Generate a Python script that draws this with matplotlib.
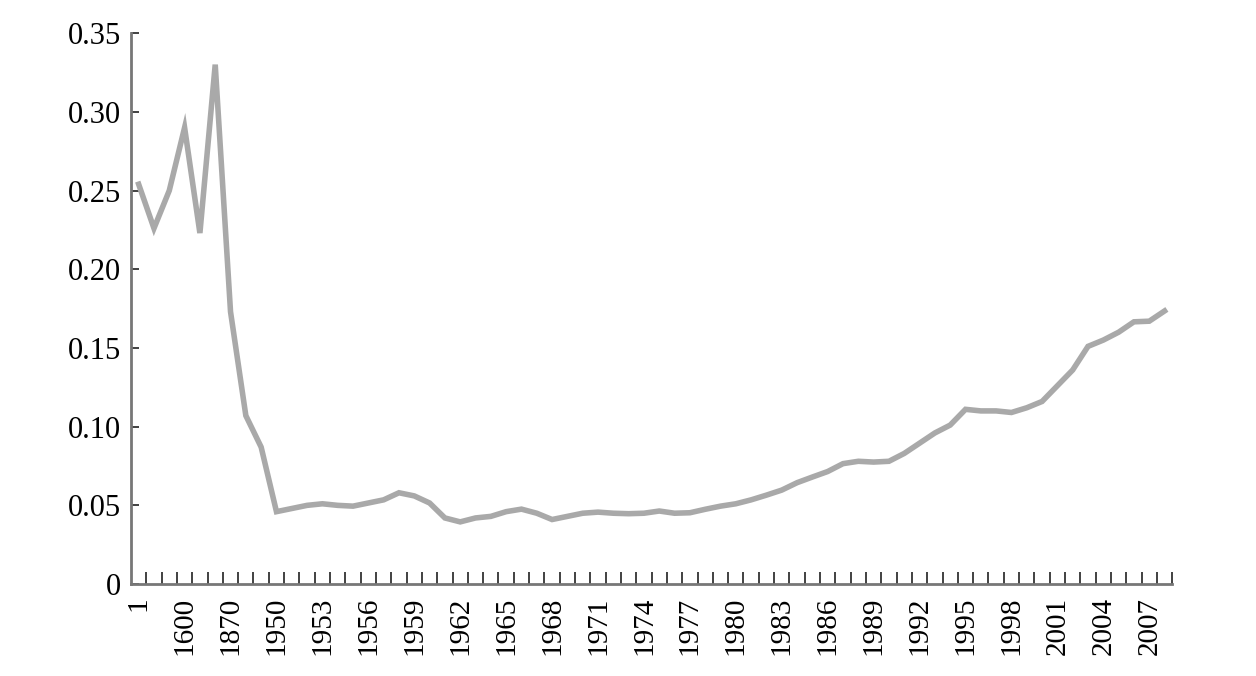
import matplotlib
matplotlib.use("Agg")
import matplotlib.pyplot as plt
from matplotlib.ticker import FixedLocator

# categories (years) on the x axis
years = ["1", "1000", "1500", "1600", "1700", "1820", "1870", "1900", "1913"] + \
        [str(y) for y in range(1950, 2009)]

values = [0.254, 0.226, 0.250, 0.290, 0.223, 0.330, 0.173, 0.107, 0.087,
          0.046, 0.048, 0.050, 0.051, 0.050, 0.0495, 0.0515, 0.0535, 0.058, 0.056, 0.0515,
          0.042, 0.0395, 0.042, 0.043, 0.046, 0.0476, 0.045, 0.041, 0.043, 0.045,
          0.0457, 0.045, 0.0447, 0.045, 0.0464, 0.045, 0.0453, 0.0475, 0.0495, 0.051,
          0.0535, 0.0565, 0.0597, 0.0644, 0.068, 0.0715, 0.0765, 0.078, 0.0775, 0.078,
          0.083, 0.0895, 0.096, 0.101, 0.111, 0.110, 0.110, 0.109, 0.112, 0.116,
          0.126, 0.136, 0.151, 0.155, 0.160, 0.1666, 0.167, 0.1735]

yticks = [0, 0.05, 0.10, 0.15, 0.20, 0.25, 0.30, 0.35]
ylabels = ["0", "0.05", "0.10", "0.15", "0.20", "0.25", "0.30", "0.35"]

plt.rcParams["font.family"] = ["Liberation Serif", "DejaVu Serif"]

fig = plt.figure(figsize=(12.56, 6.76), dpi=100)
ax = fig.add_axes([0.1043, 0.136, 0.8290, 0.815])

x = list(range(len(years)))
ax.plot(x, values, color="#a9a9a9", linewidth=4, solid_joinstyle="miter")

ax.set_xlim(-0.5, len(years) - 0.5)
ax.set_ylim(0, 0.35)

# labels at category centres (every third), tick marks on category boundaries
ax.xaxis.set_major_locator(FixedLocator(x[::3]))
ax.set_xticklabels(years[::3], rotation=90, fontsize=21)
ax.xaxis.set_minor_locator(FixedLocator([i + 0.5 for i in x]))
ax.tick_params(axis="x", which="major", length=0, pad=9)
ax.tick_params(axis="x", which="minor", direction="in", length=9, width=1.3, color="#333333")

ax.set_yticks(yticks)
ax.set_yticklabels(ylabels, fontsize=22)
ax.tick_params(axis="y", direction="in", length=6, width=1.3, color="#333333", pad=7)

for side in ["top", "right"]:
    ax.spines[side].set_visible(False)
for side in ["left", "bottom"]:
    ax.spines[side].set_color("#777777")
    ax.spines[side].set_linewidth(2)

fig.savefig("out.png", dpi=100)
